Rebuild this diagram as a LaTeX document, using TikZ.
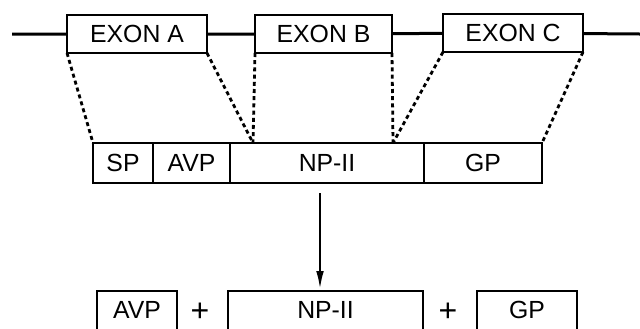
\documentclass[tikz,border=0pt]{standalone}
\usepackage{fontspec}
\setmainfont{Liberation Sans}
\usepackage{tikz}
\usetikzlibrary{arrows.meta,positioning}

\begin{document}
\begin{tikzpicture}[x=0.5pt,y=-0.5pt,font=\fontsize{12.4}{14}\selectfont,
    exon/.style={draw,line width=1.3pt,minimum height=19pt,inner sep=0pt,outer sep=0pt},
    seg/.style={draw,line width=1.3pt,minimum height=20pt,inner sep=0pt,outer sep=0pt},
    prod/.style={draw,line width=1.3pt,minimum height=20pt,inner sep=0pt,outer sep=0pt},
    map/.style={line width=1.4pt,dash pattern=on 2pt off 1.6pt},
    >={Latex[length=10pt,width=3.8pt]}]
  \useasboundingbox (0,0) rectangle (640,328);
  % gene
  \node[exon, minimum width=70pt] (exA) at (137,34) {EXON A};
  \node[exon, minimum width=68.5pt] (exB) at (323.5,34) {EXON B};
  \node[exon, minimum width=70pt] (exC) at (513,33) {EXON C};
  \coordinate (lft) at (12,34);
  \coordinate (rgt) at (640,34);
  \draw[line width=1.5pt] (lft) -- (exA) -- (exB) -- (exC) -- (rgt);
  % precursor
  \node[seg, minimum width=30pt] (sp) at (123,163) {SP};
  \node[seg, minimum width=38.5pt, right=0pt of sp] (avp) {AVP};
  \node[seg, minimum width=97pt, right=0pt of avp] (npii) {NP-II};
  \node[seg, minimum width=59pt, right=0pt of npii] (gp) {GP};
  \coordinate (jAB) at (253,143);
  \coordinate (jBC) at (393,143);
  \draw[map] (exA.south west) -- (sp.north west);
  \draw[map] (exA.south east) -- (jAB);
  \draw[map] (exB.south west) -- (jAB);
  \draw[map] (exB.south east) -- (jBC);
  \draw[map] (exC.south west) -- (jBC);
  \draw[map] (exC.south east) -- (gp.north east);
  % products
  \node[prod, minimum width=40pt] (avp2) at (137,311) {\raisebox{1pt}{AVP}};
  \node[prod, minimum width=97.5pt] (npii2) at (325.5,311) {\raisebox{1pt}{NP-II}};
  \node[prod, minimum width=50pt] (gp2) at (527,311) {\raisebox{1pt}{GP}};
  \node[font=\fontsize{16}{16}\selectfont] (p1) at (200,312) {+};
  \node[font=\fontsize{16}{16}\selectfont] (p2) at (448,312) {+};
  \coordinate (a0) at (320,193);
  \draw[->,line width=1.4pt] (a0) -- (a0 |- npii2.north);
\end{tikzpicture}
\end{document}
